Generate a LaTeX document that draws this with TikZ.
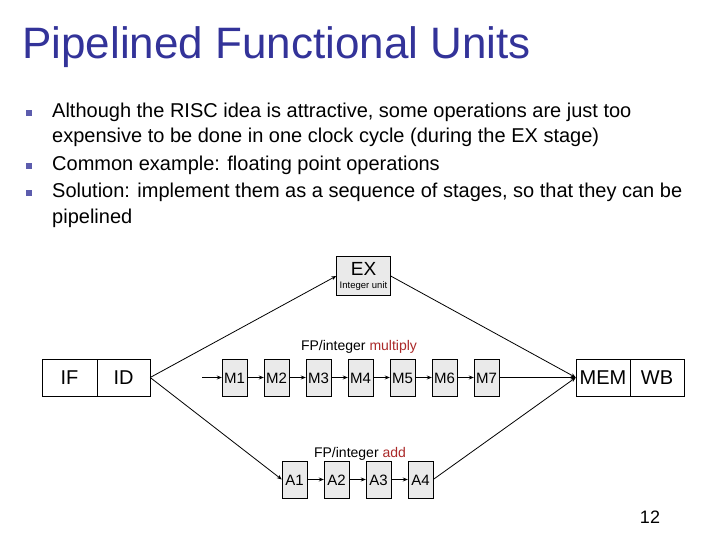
\documentclass[tikz,border=0pt]{standalone}
\usepackage{fontspec}
\setmainfont{Liberation Sans}
\usetikzlibrary{arrows.meta}
\definecolor{titleblue}{RGB}{51,51,153}
\definecolor{opred}{RGB}{170,40,40}
\definecolor{unitgray}{RGB}{234,234,234}
\begin{document}
\begin{tikzpicture}[x=1pt, y=-1pt, >={Stealth[length=5pt,width=4pt]},
  unit/.style={draw, fill=unitgray, minimum width=25pt, minimum height=37pt,
    inner sep=0pt, text height=11pt, text depth=0pt, font=\fontsize{15}{15}\selectfont},
  stagebox/.style={draw, fill=white, minimum width=54pt, minimum height=37pt,
    inner sep=0pt, text height=14pt, text depth=0pt, font=\fontsize{20}{20}\selectfont},
  bodytext/.style={anchor=base west, inner sep=0pt, font=\fontsize{20}{20}\selectfont},
  bulletbox/.style={fill=titleblue!80, minimum size=6pt, inner sep=0pt},
  flow/.style={->, line width=0.8pt},
  link/.style={->, line width=1.6pt}]
  \useasboundingbox (0,0) rectangle (720,540);

  % Title
  \node[anchor=base west, inner sep=0pt, text=titleblue,
    font=\fontsize{44}{44}\selectfont] (title) at (22,59) {Pipelined Functional Units};

  % Bullets
  \node[bulletbox] (b1) at (29,113) {};
  \node[bulletbox] (b2) at (29,166) {};
  \node[bulletbox] (b3) at (29,193) {};
  \node[bodytext] (l1) at (52,118) {Although the RISC idea is attractive, some operations are just too};
  \node[bodytext] (l2) at (52,143) {expensive to be done in one clock cycle (during the EX stage)};
  \node[bodytext] (l3) at (52,171) {Common example: floating point operations};
  \node[bodytext] (l4) at (52,198) {Solution: implement them as a sequence of stages, so that they can be};
  \node[bodytext] (l5) at (52,224) {pipelined};

  % Front and back stages
  \node[stagebox, minimum width=55pt] (if) at (69.5,377.5) {IF};
  \node[stagebox, minimum width=53pt] (id) at (123.5,377.5) {ID};
  \node[stagebox] (mem) at (603,377.5) {MEM};
  \node[stagebox] (wb) at (657,377.5) {WB};

  % Integer unit
  \node[draw, fill=unitgray, minimum width=54pt, minimum height=39pt, inner sep=0pt,
    align=center] (ex) at (363.5,276)
    {{\fontsize{19}{19}\selectfont EX}\\[1pt]{\fontsize{9.5}{9.5}\selectfont Integer unit}};

  % Multiplier stages
  \foreach \i in {1,...,7}
    \node[unit] (m\i) at ({234.5+42*(\i-1)},377.5) {M\i};
  \node[font=\fontsize{14}{14}\selectfont] (mlabel) at (359,347)
    {FP/integer \textcolor{opred}{multiply}};

  % Adder stages
  \foreach \i in {1,...,4}
    \node[unit] (a\i) at ({294.5+42*(\i-1)},479.5) {A\i};
  \node[font=\fontsize{14}{14}\selectfont] (alabel) at (360,454)
    {FP/integer \textcolor{opred}{add}};

  % Page number
  \node[font=\fontsize{18}{18}\selectfont] (page) at (650,517) {12};

  % Connections
  \coordinate (mstart) at (202,377.5);
  \draw[flow] (id.east) -- (ex.west);
  \draw[flow] (ex.east) -- (mem.west);
  \draw[flow] (id.east) -- (a1.west);
  \draw[flow] (a4.east) -- (mem.west);
  \draw[link] (mstart) -- (m1);
  \foreach \i [evaluate=\i as \j using int(\i+1)] in {1,...,6}
    \draw[link] (m\i) -- (m\j);
  \draw[flow] (m7) -- (mem.west);
  \foreach \i [evaluate=\i as \j using int(\i+1)] in {1,...,3}
    \draw[link] (a\i) -- (a\j);
\end{tikzpicture}
\end{document}
